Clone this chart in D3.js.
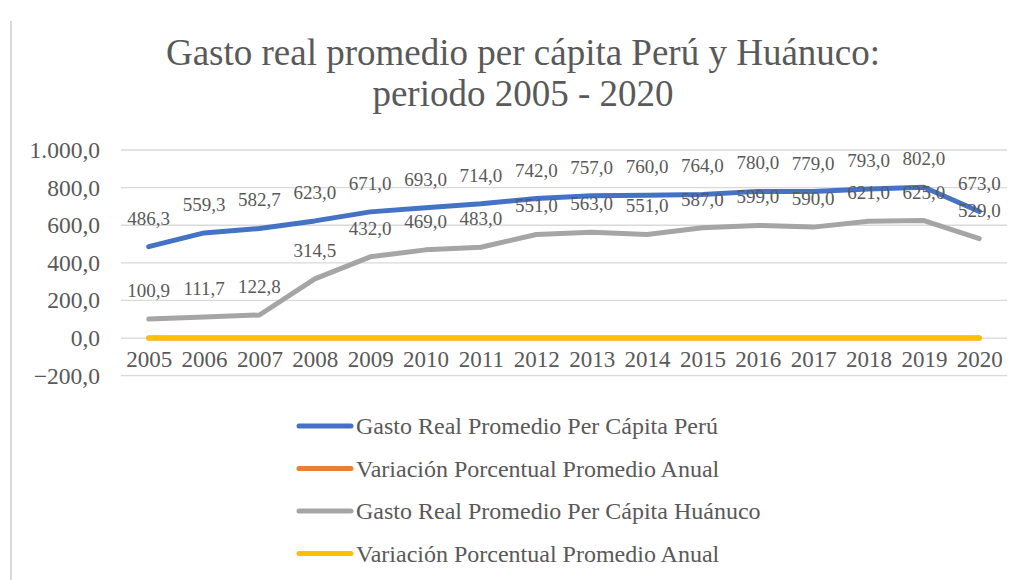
<!DOCTYPE html>
<html><head><meta charset="utf-8">
<script src="https://cdn.jsdelivr.net/npm/d3@7"></script>
<style>body{margin:0;background:#fff}svg{display:block}svg text{font-family:"Liberation Serif",Tinos,"Times New Roman",Times,"DejaVu Serif",serif !important;fill:#595959}</style>
</head><body><svg id="c" width="1026" height="580"></svg>
<script>
const years = ["2005","2006","2007","2008","2009","2010","2011","2012","2013","2014","2015","2016","2017","2018","2019","2020"];
const peru = [486.3,559.3,582.7,623.0,671.0,693.0,714.0,742.0,757.0,760.0,764.0,780.0,779.0,793.0,802.0,673.0];
const varPeru = [0,0,0,0,0,0,0,0,0,0,0,0,0,0,0,0];
const huanuco = [100.9,111.7,122.8,314.5,432.0,469.0,483.0,551.0,563.0,551.0,587.0,599.0,590.0,621.0,625.0,529.0];
const varHuanuco = [0,0,0,0,0,0,0,0,0,0,0,0,0,0,0,0];
const yTicks = [-200,0,200,400,600,800,1000];
const titleLines = ["Gasto real promedio per cápita Perú y Huánuco:","periodo 2005 - 2020"];
const seriesNames = ["Gasto Real Promedio Per Cápita Perú","Variación Porcentual Promedio Anual","Gasto Real Promedio Per Cápita Huánuco","Variación Porcentual Promedio Anual"];

const svg = d3.select("#c");
const colors = ["#4472C4","#ED7D31","#A5A5A5","#FFC000"];
const series = [peru, varPeru, huanuco, varHuanuco];
const showLabels = [true,false,true,false];

const x = d3.scalePoint().domain(years).range([121,1007]).padding(0.5);
const y = d3.scaleLinear().domain([-200,1000]).range([375.7,150]);
const fmt = v => {
  const s = d3.format(",.1f")(v);
  return s.replace(/,/g,"#").replace(/\./g,",").replace(/#/g,".");
};

svg.append("line").attr("x1",11).attr("x2",11).attr("y1",21).attr("y2",580).attr("stroke","#d9d9d9").attr("stroke-width",2);

svg.append("g").selectAll("text").data(titleLines).join("text")
  .attr("x",523).attr("y",(d,i)=>65+i*41).attr("text-anchor","middle")
  .style("font-size","37px").text(d=>d);

svg.append("g").selectAll("line").data(yTicks).join("line")
  .attr("x1",121).attr("x2",1007).attr("y1",d=>y(d)).attr("y2",d=>y(d))
  .attr("stroke","#d9d9d9").attr("stroke-width",1.3);

const yAxis = d3.axisLeft(y).tickValues(yTicks).tickFormat(fmt).tickSize(0).tickPadding(21);
const ya = svg.append("g").attr("transform","translate(121,0)").call(yAxis);
ya.attr("font-family",null);
ya.select(".domain").remove();
ya.selectAll("text").style("font-size","23.5px").attr("fill","#595959");

const xAxis = d3.axisBottom(x).tickSize(0).tickPadding(13);
const xa = svg.append("g").attr("transform",`translate(0,${y(0)})`).call(xAxis);
xa.attr("font-family",null);
xa.select(".domain").remove();
xa.selectAll("text").style("font-size","23px").attr("fill","#595959");

const line = d3.line().x((d,i)=>x(years[i])).y(d=>y(d));
series.forEach((s,k)=>{
  svg.append("path").datum(s).attr("d",line).attr("fill","none")
    .attr("stroke",colors[k]).attr("stroke-width",5).attr("stroke-linecap","round").attr("stroke-linejoin","round");
});
series.forEach((s,k)=>{
  if(!showLabels[k]) return;
  svg.append("g").selectAll("text").data(s).join("text")
    .attr("x",(d,i)=>x(years[i])).attr("y",d=>y(d)-22).attr("text-anchor","middle")
    .style("font-size","19px").text(d=>fmt(d));
});

const lg = svg.append("g").selectAll("g").data(seriesNames).join("g")
  .attr("transform",(d,i)=>`translate(0,${426+i*42.5})`);
lg.append("line").attr("x1",299).attr("x2",351).attr("y1",0).attr("y2",0)
  .attr("stroke",(d,i)=>colors[i]).attr("stroke-width",5).attr("stroke-linecap","round");
lg.append("text").attr("x",356).attr("y",8).style("font-size","24px").text(d=>d);
</script></body></html>
